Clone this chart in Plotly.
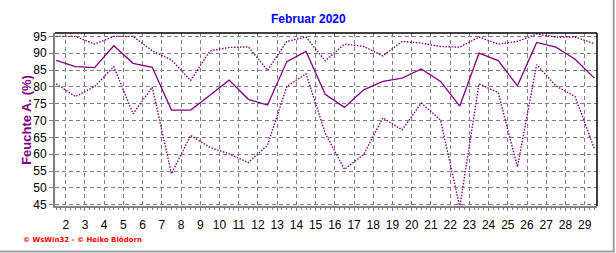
import plotly.graph_objects as go

days = list(range(1, 30))
x_pos = [d + 0.5 for d in days]

hum_max = [95.0, 95.0, 92.7, 95.0, 95.0, 90.7, 88.0, 81.9, 90.7, 91.7,
           91.9, 84.9, 93.5, 94.8, 87.7, 92.7, 92.0, 89.2, 93.5, 93.0,
           92.0, 91.8, 94.8, 92.7, 93.5, 95.7, 94.8, 94.8, 92.8]
hum_mean = [87.9, 86.0, 85.7, 92.2, 87.0, 85.8, 73.1, 73.1, 77.5, 82.0,
            76.3, 74.6, 87.5, 90.5, 77.8, 73.9, 79.1, 81.6, 82.6, 85.3,
            81.6, 74.3, 90.0, 87.8, 80.3, 93.2, 91.8, 88.2, 82.6]
hum_min = [80.9, 77.1, 80.1, 86.0, 72.0, 79.9, 54.2, 65.6, 62.0, 60.1,
           57.5, 62.7, 80.1, 83.9, 66.2, 55.5, 59.9, 70.8, 67.2, 75.2,
           70.1, 44.3, 80.9, 78.3, 56.2, 86.6, 80.3, 77.1, 61.7]

tick_vals = list(range(2, 30))
y_ticks = list(range(45, 100, 5))

purple = "#800080"
W, H = 616, 253
L, R, T, B = 55, 597.3, 33.3, 206
pw, ph = R - L, B - T

def px(x):
    return (x - L) / pw

def py(y):
    return (B - y) / ph

fig = go.Figure()
fig.add_trace(go.Scatter(x=x_pos, y=hum_max, mode="lines",
                         line=dict(color=purple, width=1.4, dash="1.5px,1.5px")))
fig.add_trace(go.Scatter(x=x_pos, y=hum_mean, mode="lines",
                         line=dict(color=purple, width=1.3)))
fig.add_trace(go.Scatter(x=x_pos, y=hum_min, mode="lines",
                         line=dict(color=purple, width=1.4, dash="1.5px,1.5px")))

fig.update_layout(
    width=W, height=H,
    margin=dict(l=L, r=W - R, t=T, b=H - B, pad=0),
    paper_bgcolor="white", plot_bgcolor="white",
    showlegend=False,
    font=dict(family="Liberation Sans, Arial", size=12, color="black"),
    xaxis=dict(range=[1.44, 29.64], tickmode="array", tickvals=tick_vals,
               ticktext=[str(v) for v in tick_vals],
               showgrid=True, gridcolor="#808080", griddash="4px,3px", gridwidth=1,
               zeroline=False, showline=True, linecolor="#808080", linewidth=2,
               ticks="outside", ticklen=3, tickcolor="#808080",
               ticklabelstandoff=4,
               minor=dict(dtick=0.25, tick0=0, ticks="outside", ticklen=2,
                          tickcolor="#808080", showgrid=False),
               tickfont=dict(size=12)),
    yaxis=dict(range=[44.6, 96.0], tickmode="array", tickvals=y_ticks,
               showgrid=True, gridcolor="#808080", griddash="4px,3px", gridwidth=1,
               zeroline=False, showline=True, linecolor="#808080", linewidth=2,
               ticks="outside", ticklen=4, tickcolor="#808080",
               tickfont=dict(size=12)),
)

# black frame on top and right
fig.add_shape(type="line", xref="paper", yref="paper", x0=0, x1=1, y0=1, y1=1,
              line=dict(color="black", width=1.5))
fig.add_shape(type="line", xref="paper", yref="paper", x0=1, x1=1, y0=0, y1=1,
              line=dict(color="black", width=1.5))
# outer gray border (right and bottom)
fig.add_shape(type="line", xref="paper", yref="paper", x0=px(614), x1=px(614),
              y0=py(252), y1=py(0), line=dict(color="#a0a0a0", width=2))
fig.add_shape(type="line", xref="paper", yref="paper", x0=px(0), x1=px(615),
              y0=py(251.5), y1=py(251.5), line=dict(color="#a0a0a0", width=2))

fig.add_annotation(text="<b>Februar 2020</b>", xref="paper", yref="paper",
                   x=px(309), y=py(19), showarrow=False, xanchor="center", yanchor="middle",
                   font=dict(color="#0000ff", size=12, family="Liberation Sans, Arial"))
fig.add_annotation(text="<b>Feuchte A. (%)</b>", xref="paper", yref="paper",
                   x=px(27), y=py(120), showarrow=False, textangle=-90,
                   xanchor="center", yanchor="middle",
                   font=dict(color=purple, size=13, family="Liberation Sans, Arial"))
fig.add_annotation(text="<b>© WsWin32 - © Heiko Blödorn</b>", xref="paper", yref="paper",
                   x=px(21), y=py(240), showarrow=False, xanchor="left", yanchor="middle",
                   font=dict(color="#ff0000", size=7, family="DejaVu Sans"))

fig.write_html("out.html")
